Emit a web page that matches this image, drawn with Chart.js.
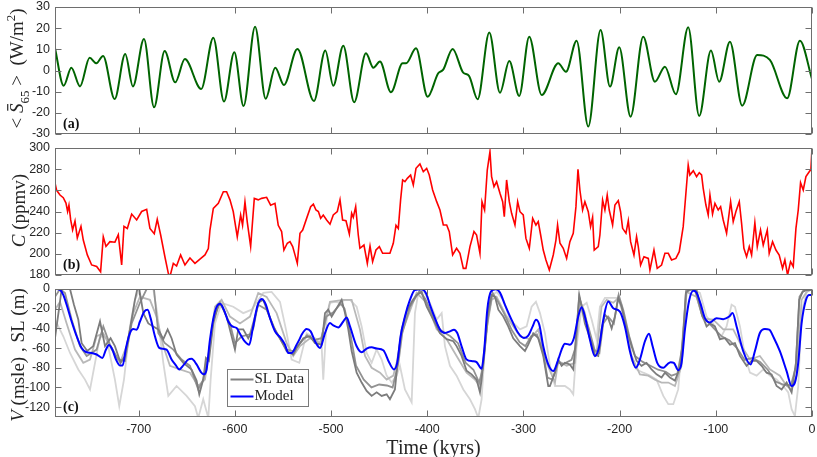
<!DOCTYPE html>
<html>
<head>
<meta charset="utf-8">
<script src="https://cdn.jsdelivr.net/npm/chart.js@4.4.1/dist/chart.umd.min.js"></script>
<style>
    html, body { margin: 0; padding: 0; background: #fff; }
    #wrap { position: relative; width: 817px; height: 457px; overflow: hidden; }
    .panel { position: absolute; left: 0; width: 817px; }
</style>
</head>
<body>
<div id="wrap">
    <div class="panel" style="top:0;height:141px"><canvas id="chartA" width="817" height="141"></canvas></div>
    <div class="panel" style="top:141px;height:141px"><canvas id="chartB" width="817" height="141"></canvas></div>
    <div class="panel" style="top:282px;height:175px"><canvas id="chartC" width="817" height="175"></canvas></div>
</div>
<script>
// time axis (kyrs)
const timeMin = -787;
const timeMax = 0;
const timeTicks = [-700, -600, -500, -400, -300, -200, -100, 0];
const insolTicks = [-30, -20, -10, 0, 10, 20, 30];
const co2Ticks = [180, 200, 220, 240, 260, 280, 300];
const seaTicks = [-120, -100, -80, -60, -40, -20, 0];

// (a) insolation anomaly <S65>, W/m2  [time, value]
const insolation = [
    [-787, 10.5], [-778, -7.2], [-770, 1.3], [-761, -7.5], [-751, 6], [-744, 3.4], [-737, 6.9],
    [-725, -13.5], [-714, 7.8], [-706, -7.5], [-694.5, 14.9], [-684, -17.4], [-673, 9.2],
    [-662, -5.6], [-652, 5.4], [-635, -8.7], [-622.4, 15.5], [-611.3, -14.7], [-600.6, 8.6],
    [-591, -16.8], [-579, 20.7], [-568, -13.3], [-558, 1.3], [-549, -6.8], [-535, 10.2],
    [-517.8, -14.4], [-506, 9.4], [-497.7, -7.2], [-487.3, 11.7], [-476, -15], [-463.7, 8.1],
    [-456, 1.3], [-449.2, 4.2], [-437.7, -10.3], [-425.6, 3.4], [-422, 3.4], [-411.7, 10.5],
    [-399.6, -12.4], [-388.6, -1.3], [-383.4, 0.4], [-373.6, 10.2], [-362.6, -1], [-356.6, -2.5],
    [-347.6, -13.6], [-335.5, 17.9], [-324.4, -10.5], [-314.7, 4.5], [-304.4, -12], [-294, 16],
    [-281, -11.6], [-263.8, 3.4], [-255.8, -0.6], [-244.7, 14.1], [-232.6, -26.5], [-219.8, 19.1],
    [-210, -7.6], [-200.4, 11], [-188.6, -21.8], [-175.5, 16], [-163.3, -5.3], [-152.9, 1.8],
    [-141.5, -11.2], [-128.7, 20.4], [-117.3, -21.5], [-105.1, 9.4], [-96.5, -5.3], [-85.3, 13.6],
    [-72.6, -16.6], [-57, 7.3], [-43.8, 5], [-25.8, -13.1], [-12.6, 14.1], [0, -4]
];

// (b) CO2, ppmv  [time, value]
const co2 = [
    [-787, 267], [-785.3, 260], [-781.8, 255.6], [-778.4, 253], [-775.6, 248], [-773.9, 240],
    [-772.5, 246], [-770.7, 232], [-768.7, 222.5], [-766.2, 231], [-763.8, 215], [-760, 226],
    [-757.6, 213], [-753.4, 199], [-748.9, 189.5], [-743.7, 188], [-739.6, 183], [-736.8, 216],
    [-734, 207], [-729.9, 211.5], [-724.7, 211], [-721.2, 218], [-717.7, 189.5], [-715.3, 226],
    [-711.8, 224], [-707.3, 237.6], [-702.1, 232], [-696.9, 240], [-691.7, 242], [-688.3, 224],
    [-683.8, 219], [-680.7, 232.6], [-677.2, 218], [-672.7, 197], [-669.2, 181.6], [-667.5, 178.5],
    [-664, 191], [-660.6, 188.5], [-656.4, 199], [-651.9, 189.5], [-646.7, 196], [-641.5, 191],
    [-636.3, 195], [-631.1, 199], [-627.6, 205], [-625.9, 222.5], [-622.4, 243], [-617.2, 247.7],
    [-612, 258.7], [-608.6, 258.7], [-605.1, 251], [-601.7, 240], [-597.5, 216], [-594, 236.7],
    [-592, 227], [-589.5, 249], [-587.1, 230], [-583.6, 207], [-579.8, 252.4], [-575.7, 251],
    [-572.2, 252.4], [-567, 253.4], [-562.8, 246], [-558.3, 247.7], [-554.9, 227], [-551.4, 221],
    [-549, 203.6], [-545.5, 210], [-542.7, 211.5], [-539.9, 206.8], [-537.5, 199], [-535.1, 191],
    [-532.3, 219.4], [-529.5, 222.5], [-525.4, 233.5], [-521.2, 244.6], [-518.4, 247], [-515.7, 241.4],
    [-513.2, 240], [-510.8, 233.5], [-508.1, 236.7], [-504.6, 232], [-501.1, 228], [-497.7, 236.7],
    [-493.5, 240], [-490.7, 251], [-488, 232], [-484.5, 231.3], [-481, 218.7], [-478.6, 238.3],
    [-476.9, 234.5], [-474.4, 244.6], [-471.7, 217.8], [-470, 205.2], [-465.8, 208.3], [-462.3, 191],
    [-459.5, 207.4], [-456.8, 192.6], [-453.3, 203.6], [-449.8, 206.8], [-446.4, 200.5], [-442.2, 200.5],
    [-438.8, 200.5], [-435.3, 210], [-432.5, 227], [-430.1, 224], [-427.7, 251], [-425.6, 269.8],
    [-423.2, 268.2], [-420.7, 271.3], [-417.3, 274.5], [-414.5, 265], [-411.7, 280.8], [-407.6, 284.9],
    [-404.1, 277.6], [-400.6, 280.8], [-397.9, 274.5], [-394.4, 260.3], [-390.2, 249.3], [-386.8, 241.4],
    [-383.3, 227.2], [-379.8, 227.2], [-377.1, 221], [-373.6, 198.9], [-369.5, 205.2], [-366, 200.5],
    [-362.5, 186.3], [-359.8, 186.3], [-355.6, 206.8], [-351.4, 221], [-348.7, 217.8], [-345.2, 200.5],
    [-343.1, 249.3], [-340.4, 241.4], [-337.6, 279.2], [-334.8, 296.5], [-333.1, 272.9], [-330.6, 263.5],
    [-327.9, 268.2], [-324.4, 257.2], [-321.6, 249.3], [-319.9, 235.1], [-317.5, 269.8], [-314.7, 249.3],
    [-312.3, 238.3], [-308.8, 227.2], [-306, 249.3], [-303.6, 239.8], [-300.2, 236.7], [-297.4, 214.6],
    [-293.9, 205.2], [-290.4, 233.5], [-287, 227.2], [-284.6, 230.4], [-282.1, 217.8], [-279.4, 203.6],
    [-276.6, 194.2], [-273.1, 184.7], [-269, 198.9], [-266.2, 213], [-264.5, 227.2], [-262, 210],
    [-258.6, 205.2], [-255.1, 195.7], [-251.7, 211.5], [-248.2, 219.4], [-245.4, 244.6], [-243.3, 279.8],
    [-241.3, 260.3], [-238.5, 241.4], [-236.1, 249.3], [-232.6, 239.8], [-230.2, 225.7], [-228.1, 234.5],
    [-226.4, 203.6], [-222.2, 206.8], [-220.5, 217.8], [-217.7, 250.9], [-215.3, 241.4], [-212.9, 255.6],
    [-210.8, 241.4], [-207.3, 227.2], [-204.9, 246.1], [-201.4, 250.2], [-199, 239.8], [-196.9, 224.1],
    [-193.4, 219.4], [-191, 231.3], [-188.6, 211.5], [-185.1, 198.9], [-182.4, 216.2], [-180.6, 206.8],
    [-178.2, 189.4], [-174.7, 197.3], [-170.2, 195.7], [-168.5, 184.7], [-164.3, 203.6], [-160.9, 186.3],
    [-156.4, 189.4], [-152.9, 200.5], [-149.4, 200.5], [-146, 194.2], [-141.5, 195.7], [-138, 202],
    [-133.9, 225.7], [-131.1, 257.2], [-128.7, 283.9], [-127, 274.5], [-123.4, 278.6], [-120, 272.9],
    [-117.2, 276.7], [-114.8, 274.5], [-113.1, 261.9], [-110.3, 246.1], [-107.9, 236.7], [-106.1, 255.6],
    [-103.4, 237.6], [-100.9, 247.7], [-97.5, 241.4], [-95, 244.6], [-92.3, 232], [-88.8, 219.4],
    [-84.6, 249.3], [-81.9, 230.4], [-79.1, 240], [-75.6, 249.3], [-73.2, 228.8], [-70.8, 205.2],
    [-68, 197.3], [-65.2, 206.8], [-62.8, 198.9], [-59.4, 229.4], [-56.9, 206.8], [-53.5, 222.5],
    [-50.7, 208.3], [-46.5, 222.5], [-44.5, 200.5], [-41, 211.5], [-37.5, 203.6], [-34.1, 198.9],
    [-30.6, 186.3], [-28.2, 194.2], [-25.4, 180], [-22.3, 192.6], [-19.5, 187.9], [-16.7, 224.1],
    [-14.3, 241.4], [-11.9, 267.2], [-9.1, 260.3], [-6.3, 272.9], [-2.9, 277.6], [-1.1, 279.8], [0, 300]
];

// (c) modelled ice volume V, msle  [time, value]
const model = [
    [-787, 0], [-781.8, -1], [-778.4, -6], [-774.9, -16], [-769.7, -33], [-764.5, -48], [-759.3, -60],
    [-754.8, -64], [-748.9, -65], [-743.7, -66.5], [-737.8, -70], [-734, -61.5], [-730.9, -57],
    [-727.4, -61.5], [-723.6, -71.6], [-719.5, -77.6], [-716.7, -77.6], [-713.2, -59.8], [-709.1, -44.7],
    [-705.6, -40.7], [-702.1, -41.3], [-698.7, -33], [-694.2, -22.9], [-690.7, -21.2], [-687.6, -29.6],
    [-683.1, -48], [-678.6, -59.8], [-674.4, -60.8], [-671, -61.5], [-665.8, -71.6], [-661.3, -77.6],
    [-657.8, -81.7], [-653.6, -77.6], [-648.4, -71.6], [-645, -70.9], [-639.8, -76.6], [-635.3, -84.4],
    [-632.2, -86.7], [-629.4, -81.7], [-625.9, -51.4], [-620.7, -22.9], [-615.5, -15.1], [-611.4, -21.2],
    [-606.9, -33], [-602.7, -38], [-598.2, -39.7], [-594.7, -45.4], [-590.6, -52.1], [-585, -56.5],
    [-581.6, -41.3], [-576.7, -17.8], [-572.2, -10.1], [-568.1, -15.1], [-563.5, -29.6], [-558.3, -43],
    [-552.4, -49.7], [-547.9, -56.5], [-544.5, -64.9], [-541, -64.9], [-535.8, -56.5], [-533, -51.4],
    [-530.6, -46.4], [-525.4, -40.7], [-521.2, -43], [-516.7, -53.1], [-511.5, -59.8], [-506.3, -44.7],
    [-501.1, -34.6], [-497.7, -37], [-492.5, -39], [-487.3, -33], [-483.8, -28.9], [-480.3, -38],
    [-473.4, -58.2], [-468.2, -64.2], [-463, -60.5], [-457.8, -59.2], [-452.6, -60.5], [-445.7, -62.2],
    [-439.4, -75], [-434.6, -81.7], [-431.1, -74.3], [-427.7, -48], [-423.2, -27.9], [-418, -11.1],
    [-412.8, -1], [-405.8, -0.3], [-401.3, -4.4], [-397.2, -16.1], [-392, -29.6], [-386.8, -41.3],
    [-381.6, -44.7], [-376.4, -43], [-372.2, -41.3], [-368.8, -44.7], [-364.3, -58.2], [-359.1, -71.6],
    [-352.8, -73.3], [-348.7, -74.3], [-343.5, -81], [-341, -64.9], [-337.6, -21.2], [-333.8, -2.7],
    [-328.6, -0.3], [-324.4, -3.7], [-319.2, -16.1], [-312.3, -31.3], [-305.4, -44.7], [-299.5, -49.7],
    [-295, -47.4], [-290.4, -38], [-287, -31.3], [-283.5, -36.3], [-279.4, -58.2], [-274.2, -76.6],
    [-269, -83.4], [-263.8, -71.6], [-260.3, -61.5], [-256.9, -55.5], [-251.7, -56.5], [-247.5, -49.7],
    [-243, -27.9], [-239.5, -18.5], [-236.1, -27.9], [-230.9, -51.4], [-225.7, -68.2], [-221.2, -58.2],
    [-217, -31.3], [-211.8, -12.8], [-206.6, -19.5], [-199.7, -22.9], [-194.5, -38], [-189.3, -63.2],
    [-183.1, -80], [-178.9, -71.6], [-173.7, -53.1], [-169.5, -45.4], [-165.7, -58.2], [-160.9, -75],
    [-154.6, -80], [-150.5, -76.6], [-147, -74.3], [-143.6, -75], [-139.1, -82.4], [-135.6, -75],
    [-132.1, -41.3], [-127.6, -11.1], [-123.4, -1.7], [-120, -3.7], [-115.8, -15.1], [-111.3, -29.6],
    [-106.1, -34], [-99.2, -29.6], [-92.3, -30.6], [-86, -27.9], [-82.6, -24.5], [-78.4, -38],
    [-71.5, -63.2], [-63.9, -76.6], [-59.4, -63.2], [-54.2, -44.7], [-49, -40.7], [-44.5, -41.3],
    [-39.6, -49.7], [-33.4, -63.2], [-26.4, -83.4], [-21.2, -98.5], [-17.8, -95.1], [-14.3, -75],
    [-10.8, -34.6], [-6.3, -11.1], [-2.9, -6], [0, -6]
];

// (c) sea level reconstructions, m  [time, value]
const slDark1 = [
    [-787, -50], [-782.5, -18], [-780.1, 0], [-771.4, 0], [-767.3, -16], [-762.8, -31], [-759.3, -55],
    [-753.4, -63], [-747.2, -58], [-740.2, -33], [-735, -58], [-729.2, -50], [-724.7, -58], [-718.8, -75],
    [-714.3, -68], [-709.1, -41], [-703.9, -11], [-701.4, 0], [-699.4, 0], [-695.2, -24.5], [-690, -35],
    [-684.8, -38], [-679.6, -41], [-674.4, -51], [-669.9, -41], [-665.8, -50], [-660.6, -66.5],
    [-653.6, -75], [-645, -81.7], [-639.8, -93], [-637, -107], [-632.9, -92], [-630.1, -70], [-627, -73],
    [-622.4, -35], [-617.2, -16], [-613.8, -16], [-608.6, -28], [-603.4, -48], [-599.9, -61.5],
    [-596.5, -41], [-591.3, -41], [-586.1, -50], [-580.9, -40], [-575.7, -14], [-570.5, -11],
    [-565.3, -24.5], [-560.1, -38], [-553.1, -50], [-546.2, -63], [-539.3, -66.5], [-535.8, -60],
    [-528.8, -50], [-521.9, -48], [-516.7, -55], [-509.8, -56.5], [-506.3, -24.5], [-502.9, -21],
    [-499.4, -28], [-494.2, -19.5], [-489, -11], [-485.5, -24.5], [-482.1, -41], [-478.6, -63],
    [-473.4, -85], [-468.2, -95], [-463, -103.5], [-457.8, -108.6], [-452.6, -105], [-447.4, -108.6],
    [-442.2, -107], [-438.8, -112], [-433.6, -102], [-430.1, -68], [-426.6, -41], [-421.4, -23],
    [-416.2, -13], [-411.1, -6], [-405.8, -3], [-400.6, -18], [-393.7, -31], [-386.8, -45], [-379.8, -51],
    [-372.9, -53], [-369.5, -58], [-364.3, -68], [-359.1, -83], [-353.9, -86.7], [-348.7, -92],
    [-345.2, -105], [-343.5, -92], [-340, -58], [-336.5, -21], [-333.1, -6], [-329.6, -8], [-326.1, -21],
    [-320.9, -28], [-315.8, -38], [-310.6, -50], [-303.6, -58], [-298.4, -63], [-295, -56.5], [-289.8, -45],
    [-284.6, -50], [-279.4, -68], [-274.2, -98.5], [-272.5, -98.5], [-267.2, -85], [-263.8, -71.6],
    [-260.3, -78], [-256.9, -75], [-251.7, -76.6], [-248.2, -81.7], [-244.7, -41], [-242, -6],
    [-239.5, -18], [-236.1, -35], [-232.6, -45], [-229.1, -55], [-225.7, -66.5], [-222.2, -68],
    [-218.8, -41], [-215.3, -26], [-211.8, -30], [-208.3, -40], [-204.9, -28], [-201.4, -9], [-197.9, -18],
    [-192.8, -40], [-187.6, -58], [-182.4, -73], [-177.2, -78], [-172, -75], [-166.8, -81.7],
    [-161.6, -86.7], [-156.4, -90], [-152.9, -85], [-147.7, -90], [-142.5, -93], [-137.3, -80],
    [-133.9, -48], [-131.1, -4], [-127, 0], [-120, -1], [-114.8, -24.5], [-109.6, -38], [-106.1, -35],
    [-100.9, -38], [-95.7, -51], [-90.5, -50], [-85.3, -56.5], [-80.1, -55], [-74.9, -68], [-68, -78],
    [-62.8, -73], [-57.6, -73], [-52.4, -78], [-47.2, -85], [-42, -86.7], [-36.8, -98.5], [-31.6, -102],
    [-26.4, -95], [-21.2, -105], [-16.7, -75], [-13.3, -11], [-9.8, -3], [-5.6, -1], [0, -1]
];

const slDark2 = [
    [-787, -8], [-781.8, 0], [-776.6, -4], [-769.7, -31], [-761, -58], [-754.1, -68], [-743.7, -61.5],
    [-736.8, -38], [-729.9, -56.5], [-721.2, -71.6], [-714.3, -73], [-707.3, -35], [-698.7, -14],
    [-691.7, 0], [-684.1, 0], [-679.6, -45], [-672.7, -55], [-664, -61.5], [-655.4, -71.6], [-646.7, -78],
    [-638.1, -102], [-632.9, -92], [-627.6, -68], [-622.4, -31], [-615.5, -14], [-605.1, -35],
    [-599.9, -55], [-593, -48], [-584.3, -46], [-575.7, -16], [-567, -21], [-556.6, -45], [-546.2, -61.5],
    [-539.3, -63], [-532, -55], [-525, -47], [-518, -52], [-510, -50], [-505, -28], [-498, -24],
    [-490, -15], [-486, -20], [-480, -45], [-474, -78], [-466, -92], [-458, -100], [-450, -97],
    [-442, -98], [-436, -100], [-430, -75], [-426, -45], [-418, -18], [-408, -2], [-402, -10],
    [-394, -28], [-386, -42], [-376, -48], [-368, -55], [-360, -75], [-352, -82], [-346, -95],
    [-342, -80], [-337, -30], [-332, -4], [-327, -12], [-320, -25], [-312, -42], [-304, -54],
    [-298, -58], [-292, -48], [-286, -46], [-280, -62], [-275, -90], [-270, -92], [-264, -75],
    [-258, -76], [-250, -72], [-246, -60], [-242, -8], [-238, -22], [-232, -40], [-226, -62],
    [-221, -65], [-217, -35], [-212, -28], [-206, -35], [-201, -6], [-196, -22], [-190, -48],
    [-184, -68], [-176, -74], [-168, -78], [-160, -82], [-152, -84], [-146, -88], [-140, -86],
    [-135, -60], [-131, -2], [-122, 0], [-114, -28], [-108, -34], [-100, -42], [-94, -48], [-86, -52],
    [-78, -60], [-70, -72], [-62, -70], [-54, -74], [-46, -82], [-38, -94], [-30, -97], [-22, -98],
    [-17, -80], [-13, -8], [-8, 0], [0, 0]
];

const slMid = [
    [-787, -21], [-781.8, -13], [-774.9, -35], [-766.2, -61.5], [-757.6, -75], [-750.6, -71.6],
    [-743.7, -48], [-736.8, -45], [-728.1, -61.5], [-719.5, -75], [-712.5, -58], [-705.6, -24.5],
    [-698.7, -8], [-688.3, -11], [-681.4, -28], [-674.4, -58], [-667.5, -78], [-657.1, -81.7],
    [-646.7, -85], [-638.1, -98.5], [-631.1, -92], [-625.9, -58], [-620.7, -18], [-613.8, -11],
    [-605.1, -28], [-594.7, -35], [-584.3, -28], [-575.7, -4], [-567, -8], [-556.6, -24.5],
    [-546.2, -55], [-539.3, -68], [-532.3, -58], [-521.9, -50], [-511.5, -55], [-501.1, -13],
    [-487.3, -11], [-478.6, -11], [-470, -41], [-464.7, -68], [-457.8, -80], [-449.1, -85],
    [-442.2, -92], [-435.3, -88], [-431.8, -75], [-426.6, -45], [-411.1, -4], [-400.6, -14],
    [-390.2, -41], [-379.8, -51], [-369.5, -68], [-359.1, -85], [-350.4, -92], [-345.2, -98.5],
    [-338.3, -41], [-333.1, -11], [-327.9, -8], [-317.5, -28], [-303.6, -48], [-293.2, -51],
    [-284.6, -41], [-275.9, -75], [-267.2, -95], [-263.8, -73], [-255.1, -78], [-246.5, -75],
    [-241.3, -11], [-236.1, -24.5], [-229.1, -58], [-223.9, -65], [-218.8, -18], [-213.5, -11],
    [-206.6, -14], [-201.4, -9], [-194.5, -31], [-187.6, -68], [-178.9, -86.7], [-170.2, -88],
    [-163.3, -92], [-156.4, -95], [-149.4, -95], [-142.5, -98.5], [-135.6, -78], [-130.4, -3],
    [-120, -8], [-113.1, -30], [-102.7, -31], [-92.3, -41], [-81.9, -41], [-73.2, -58], [-64.5, -71.6],
    [-54.2, -68], [-43.8, -81.7], [-33.4, -88], [-26.4, -98.5], [-21.2, -102], [-16, -88],
    [-10.8, -11], [-5.6, -3], [0, 0]
];

const slLight = [
    [-787, -31], [-778.4, -48], [-771.4, -65], [-762.8, -81.7], [-755.8, -92], [-750.6, -102],
    [-745.4, -75], [-740.2, -48], [-733.3, -50], [-724.7, -92], [-720.2, -119], [-715.3, -92],
    [-709.1, -38], [-703.9, -11], [-698.7, 0], [-684.8, 0], [-680.7, -24.5], [-674.4, -75],
    [-669.2, -108.6], [-660.6, -98.5], [-650.2, -108.6], [-641.5, -119], [-638.1, -131], [-632.9, -112],
    [-627.6, -131], [-625.2, -92], [-620.7, -35], [-613.8, -14], [-601.7, -18], [-591.3, -24.5],
    [-582.6, -21], [-570.5, -4], [-561.8, -3], [-553.1, -13], [-546.9, -41], [-541, -71.6], [-533, -75],
    [-525.4, -45], [-515, -51], [-509.8, -58], [-508.1, -92], [-504.6, -31], [-501.1, -14],
    [-495.9, -13], [-490.7, -14], [-485.5, -11], [-480.3, -11], [-473.4, -18], [-468.2, -38],
    [-463, -65], [-457.8, -75], [-452.6, -61.5], [-447.4, -71.6], [-442.2, -88], [-437, -95],
    [-431.8, -88], [-428.4, -78], [-423.2, -102], [-416.2, -115], [-412.8, -24.5], [-409.3, -4],
    [-404.1, -1], [-397.2, -14], [-390.2, -31], [-385, -24.5], [-381.6, -58], [-376.4, -78],
    [-369.5, -88], [-362.5, -102], [-355.6, -112], [-350.4, -122], [-346.9, -131], [-343.5, -112],
    [-340, -58], [-334.8, -8], [-327.9, -3], [-320.9, -11], [-314, -31], [-303.6, -41], [-296.7, -38],
    [-291.5, -18], [-287, -13], [-282.8, -24.5], [-277.6, -45], [-272.4, -78], [-267.2, -98.5],
    [-262, -98.5], [-256.9, -98.5], [-251.7, -102], [-248.2, -107], [-244.7, -58], [-239.5, -18],
    [-234.3, -14], [-229.1, -31], [-223.9, -51], [-220.5, -18], [-215.3, -9], [-208.3, -9],
    [-203.2, -9], [-197.9, -16], [-192.8, -41], [-187.6, -71.6], [-182.4, -81.7], [-175.4, -85],
    [-168.5, -88], [-161.6, -92], [-154.6, -108.6], [-149.4, -117], [-144.2, -117], [-139.1, -102],
    [-133.9, -41], [-130.4, -4], [-125.2, 0], [-116.5, -4], [-109.6, -28], [-102.7, -35], [-95.7, -51],
    [-88.8, -38], [-83.6, -16], [-80.1, -18], [-74.9, -38], [-69.7, -68], [-64.5, -85], [-57.6, -88],
    [-50.7, -81.7], [-43.8, -88], [-36.8, -92], [-29.9, -98.5], [-24.7, -105], [-21.2, -122],
    [-17.8, -129], [-14.3, -98.5], [-10.8, -24.5], [-5.6, -3], [0, 0]
];

// axis titles (rich text pieces)
const titleA = [{ t: '< ' }, { t: 'S', i: true, bar: true }, { t: '65', sub: true }, { t: ' >  (W/m' }, { t: '2', sup: true }, { t: ')' }];
const titleB = [{ t: 'C', i: true }, { t: ' (ppmv)' }];
const titleC = [{ t: 'V', i: true }, { t: ' (msle) , SL (m)' }];

const SERIF = '"Liberation Serif", "DejaVu Serif", serif';
const SANS = '"Liberation Sans", Arial, sans-serif';
const INK = '#262626';
const FRAME = '#6e6e6e';

const pts = arr => arr.map(p => ({ x: p[0], y: p[1] }));

function drawRich(ctx, cx, cy, parts, size) {
    const fontFor = p => (p.i ? 'italic ' : '') + ((p.sub || p.sup) ? Math.round(size * 0.7) : size) + 'px ' + SERIF;
    let w = 0;
    parts.forEach(p => { ctx.font = fontFor(p); p.w = ctx.measureText(p.t).width; w += p.w; });
    ctx.save();
    ctx.translate(cx, cy);
    ctx.rotate(-Math.PI / 2);
    ctx.fillStyle = INK;
    ctx.textBaseline = 'alphabetic';
    let x = -w / 2;
    const base = size * 0.34;
    parts.forEach(p => {
        ctx.font = fontFor(p);
        const dy = p.sub ? size * 0.28 : (p.sup ? -size * 0.42 : 0);
        ctx.fillText(p.t, x, base + dy);
        if (p.bar) ctx.fillRect(x + p.w * 0.25, base - size * 0.86, p.w * 0.7, 1.2);
        x += p.w;
    });
    ctx.restore();
}

// frame, inside tick marks, panel letter, y title and legend
const panelDecor = {
    id: 'panelDecor',
    afterDatasetsDraw(chart, args, o) {
        const { ctx, chartArea: a, scales } = chart;
        ctx.save();
        ctx.strokeStyle = FRAME;
        ctx.lineWidth = 1;
        const L = Math.round(a.left) + 0.5, R = Math.round(a.right) - 0.5;
        const T = Math.round(a.top) + 0.5, B = Math.round(a.bottom) - 0.5;
        ctx.strokeRect(L, T, R - L, B - T);
        const tl = 6;
        ctx.beginPath();
        scales.x.ticks.forEach(t => {
            const px = Math.round(scales.x.getPixelForValue(t.value)) + 0.5;
            ctx.moveTo(px, B); ctx.lineTo(px, B - tl);
            ctx.moveTo(px, T); ctx.lineTo(px, T + tl);
        });
        scales.y.ticks.forEach(t => {
            const py = Math.round(scales.y.getPixelForValue(t.value)) + 0.5;
            ctx.moveTo(L, py); ctx.lineTo(L + tl, py);
            ctx.moveTo(R, py); ctx.lineTo(R - tl, py);
        });
        ctx.stroke();

        ctx.fillStyle = '#111';
        ctx.font = 'bold 14px ' + SERIF;
        ctx.textBaseline = 'alphabetic';
        ctx.textAlign = 'left';
        ctx.fillText(o.letter, a.left + 8, a.bottom - 6);

        drawRich(ctx, o.titleX, (a.top + a.bottom) / 2 + o.titleDy, o.title, 19);

        if (o.legend) {
            const bx = Math.round(a.left + 172) + 0.5, by = Math.round(a.top + 80) + 0.5;
            ctx.fillStyle = '#fff';
            ctx.fillRect(bx, by, 81, 37);
            ctx.strokeStyle = '#7a7a7a';
            ctx.strokeRect(bx, by, 81, 37);
            ctx.lineWidth = 2;
            ctx.strokeStyle = '#808080';
            ctx.beginPath(); ctx.moveTo(bx + 3, by + 10); ctx.lineTo(bx + 26, by + 10); ctx.stroke();
            ctx.strokeStyle = '#0000ff';
            ctx.beginPath(); ctx.moveTo(bx + 3, by + 27); ctx.lineTo(bx + 26, by + 27); ctx.stroke();
            ctx.fillStyle = INK;
            ctx.font = '15px ' + SERIF;
            ctx.textBaseline = 'middle';
            ctx.fillText('SL Data', bx + 27, by + 10);
            ctx.fillText('Model', bx + 27, by + 27);
        }
        ctx.restore();
    }
};

function makeChart(id, datasets, y, decor, withTime) {
    return new Chart(document.getElementById(id), {
        type: 'line',
        data: { datasets: datasets },
        plugins: [panelDecor],
        options: {
            responsive: false,
            animation: false,
            layout: { padding: { left: 0, right: 5, top: 7, bottom: withTime ? 0 : 7 } },
            elements: { point: { radius: 0 } },
            plugins: {
                legend: { display: false },
                tooltip: { enabled: false },
                panelDecor: decor
            },
            scales: {
                x: {
                    type: 'linear',
                    min: timeMin,
                    max: timeMax,
                    grid: { display: false, drawTicks: false },
                    border: { display: false },
                    ticks: { display: withTime, padding: 5, maxRotation: 0, autoSkip: false, color: INK, font: { family: SANS, size: 12.5 } },
                    title: withTime ? { display: true, text: 'Time (kyrs)', color: INK, padding: { top: 0, bottom: -4 }, font: { family: SERIF, size: 20 } } : { display: false },
                    afterBuildTicks: s => { s.ticks = timeTicks.map(v => ({ value: v })); },
                    afterFit: s => {
                        s.height = withTime ? 40 : 0;
                        s.paddingLeft = 0; s.paddingRight = 0;
                    }
                },
                y: {
                    min: y.min,
                    max: y.max,
                    grid: { display: false, drawTicks: false },
                    border: { display: false },
                    ticks: { padding: 5, autoSkip: false, color: INK, font: { family: SANS, size: 12.5 } },
                    afterBuildTicks: s => { s.ticks = y.ticks.map(v => ({ value: v })); },
                    afterFit: s => {
                        s.width = 55;
                        s.paddingTop = 0; s.paddingBottom = 0;
                    }
                }
            }
        }
    });
}

makeChart('chartA', [
    { data: pts(insolation), borderColor: '#006400', borderWidth: 2, cubicInterpolationMode: 'monotone' }
], { min: -30, max: 30, ticks: insolTicks }, { letter: '(a)', title: titleA, titleX: 17, titleDy: -2 }, false);

makeChart('chartB', [
    { data: pts(co2), borderColor: '#ff0000', borderWidth: 1.6, tension: 0 }
], { min: 180, max: 300, ticks: co2Ticks }, { letter: '(b)', title: titleB, titleX: 19, titleDy: -1 }, false);

makeChart('chartC', [
    { data: pts(model), borderColor: '#0000ff', borderWidth: 2, cubicInterpolationMode: 'monotone' },
    { data: pts(slDark1), borderColor: '#7c7c7c', borderWidth: 1.8, tension: 0 },
    { data: pts(slDark2), borderColor: '#929292', borderWidth: 1.8, tension: 0 },
    { data: pts(slMid), borderColor: '#b8b8b8', borderWidth: 1.8, tension: 0 },
    { data: pts(slLight), borderColor: '#d6d6d6', borderWidth: 1.8, tension: 0 }
], { min: -130, max: 0, ticks: seaTicks }, { letter: '(c)', title: titleC, titleX: 18, titleDy: 2, legend: true }, true);
</script>
</body>
</html>
